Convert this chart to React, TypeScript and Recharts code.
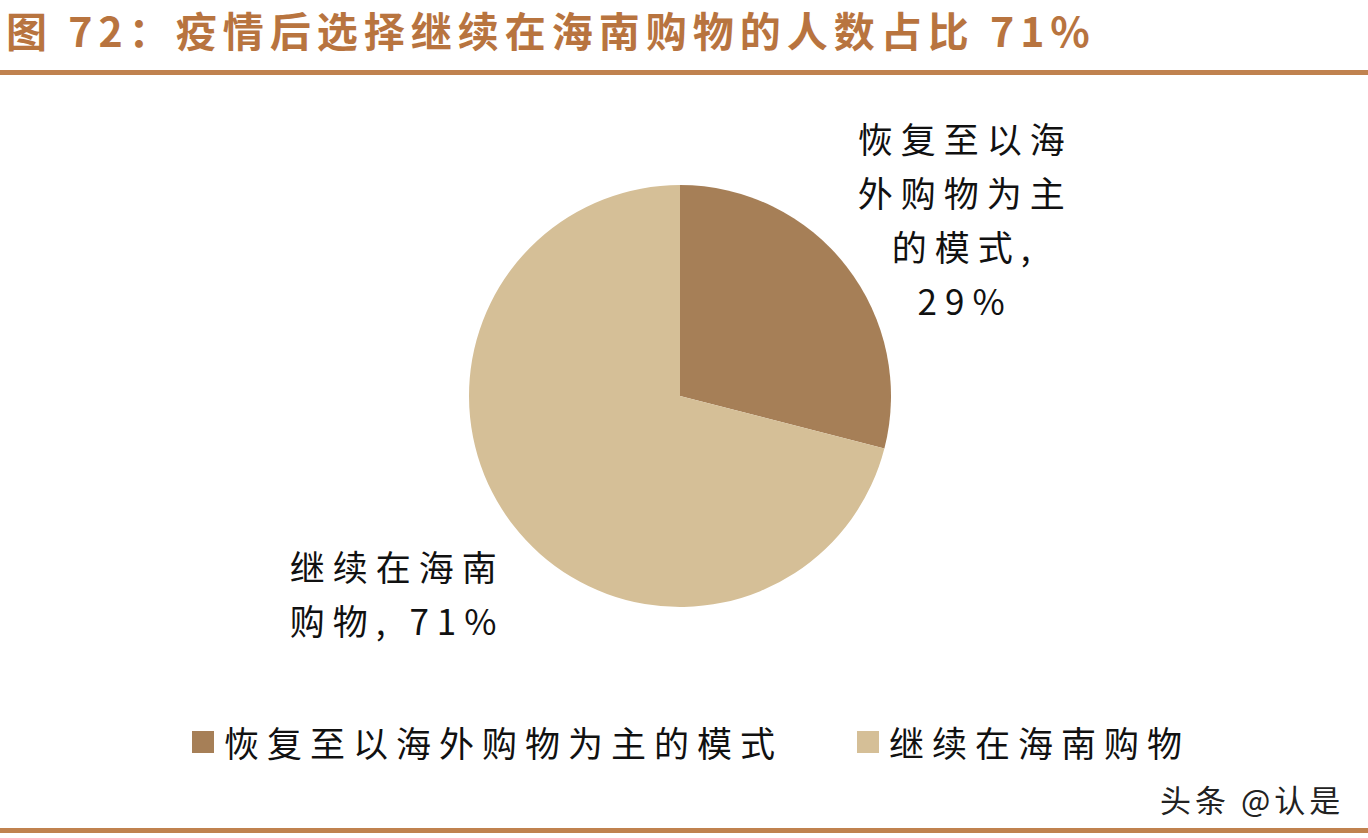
import { PieChart, Pie, Cell, Legend } from 'recharts'

const categories = ['恢复至以海外购物为主的模式', '继续在海南购物']
const shares = [29, 71]
const labelLines = [
  ['恢复至以海', '外购物为主', '的模式,', '29%'],
  ['继续在海南', '购物, 71%'],
]
const COLORS = ['#A67F57', '#D5BF97']

const TITLE = '图 72：疫情后选择继续在海南购物的人数占比 71%'
const FONT = '"Noto Sans CJK SC", "Noto Sans", sans-serif'

const data = categories.map((name, i) => ({ name, value: shares[i] }))

// radial distance of label centre from pie centre, plus a horizontal nudge
const LABEL_R = [290, 320]
const LABEL_DX = [56, -30]

function renderLabel(props: any) {
  const { cx, cy, midAngle, index } = props
  const rad = (Math.PI / 180) * midAngle
  const r = LABEL_R[index]
  const x = cx + r * Math.cos(rad) + LABEL_DX[index]
  const y = cy - r * Math.sin(rad)
  const lines = labelLines[index]
  const lh = 54
  const top = y - ((lines.length - 1) * lh) / 2
  return (
    <text key={`lbl-${index}`} x={x} y={top} textAnchor="middle" fill="#111" fontFamily={FONT} fontSize={35} letterSpacing={8}>
      {lines.map((t, j) => (
        <tspan key={j} x={x} y={top + j * lh} dominantBaseline="central">
          {t}
        </tspan>
      ))}
    </text>
  )
}

function LegendContent(props: any) {
  const { payload } = props
  return (
    <div style={{ display: 'flex', justifyContent: 'center', gap: 74, fontFamily: FONT, paddingLeft: 14 }}>
      {payload.map((p: any) => (
        <div key={p.value} style={{ display: 'flex', alignItems: 'center' }}>
          <span style={{ width: 22, height: 22, background: p.color, marginRight: 10, display: 'inline-block' }} />
          <span style={{ fontSize: 35, letterSpacing: 8, color: '#111' }}>{p.value}</span>
        </div>
      ))}
    </div>
  )
}

export default function App() {
  return (
    <div style={{ position: 'absolute', left: 0, top: 0, width: 1368, height: 838, background: '#fff', overflow: 'hidden' }}>
      <div
        style={{
          position: 'absolute',
          left: 6,
          top: 0,
          height: 60,
          lineHeight: '58px',
          fontFamily: FONT,
          fontWeight: 700,
          fontSize: 41,
          letterSpacing: 6,
          color: '#B8743F',
          whiteSpace: 'nowrap',
        }}
      >
        {TITLE}
      </div>
      <div style={{ position: 'absolute', left: 0, top: 70, width: 1368, height: 5, background: '#C0824F' }} />
      <div style={{ position: 'absolute', left: 0, top: 828, width: 1368, height: 5, background: '#C0824F' }} />
      <div
        style={{
          position: 'absolute',
          left: 1160,
          top: 776,
          fontFamily: FONT,
          fontSize: 31,
          letterSpacing: 4,
          color: '#222',
          whiteSpace: 'nowrap',
        }}
      >
        头条 @认是
      </div>
      <div style={{ position: 'absolute', left: 0, top: 0 }}>
        <PieChart width={1368} height={838} margin={{ top: 0, right: 0, bottom: 0, left: 0 }}>
          <Pie
            data={data}
            dataKey="value"
            nameKey="name"
            cx={680}
            cy={396}
            outerRadius={211}
            startAngle={90}
            endAngle={-270}
            stroke="none"
            label={renderLabel}
            labelLine={false}
            isAnimationActive={false}
          >
            {data.map((d, i) => (
              <Cell key={d.name} fill={COLORS[i]} />
            ))}
          </Pie>
          <Legend
            verticalAlign="bottom"
            content={<LegendContent />}
            wrapperStyle={{ top: 716, left: 0, width: 1368, bottom: 'auto' }}
          />
        </PieChart>
      </div>
    </div>
  )
}
